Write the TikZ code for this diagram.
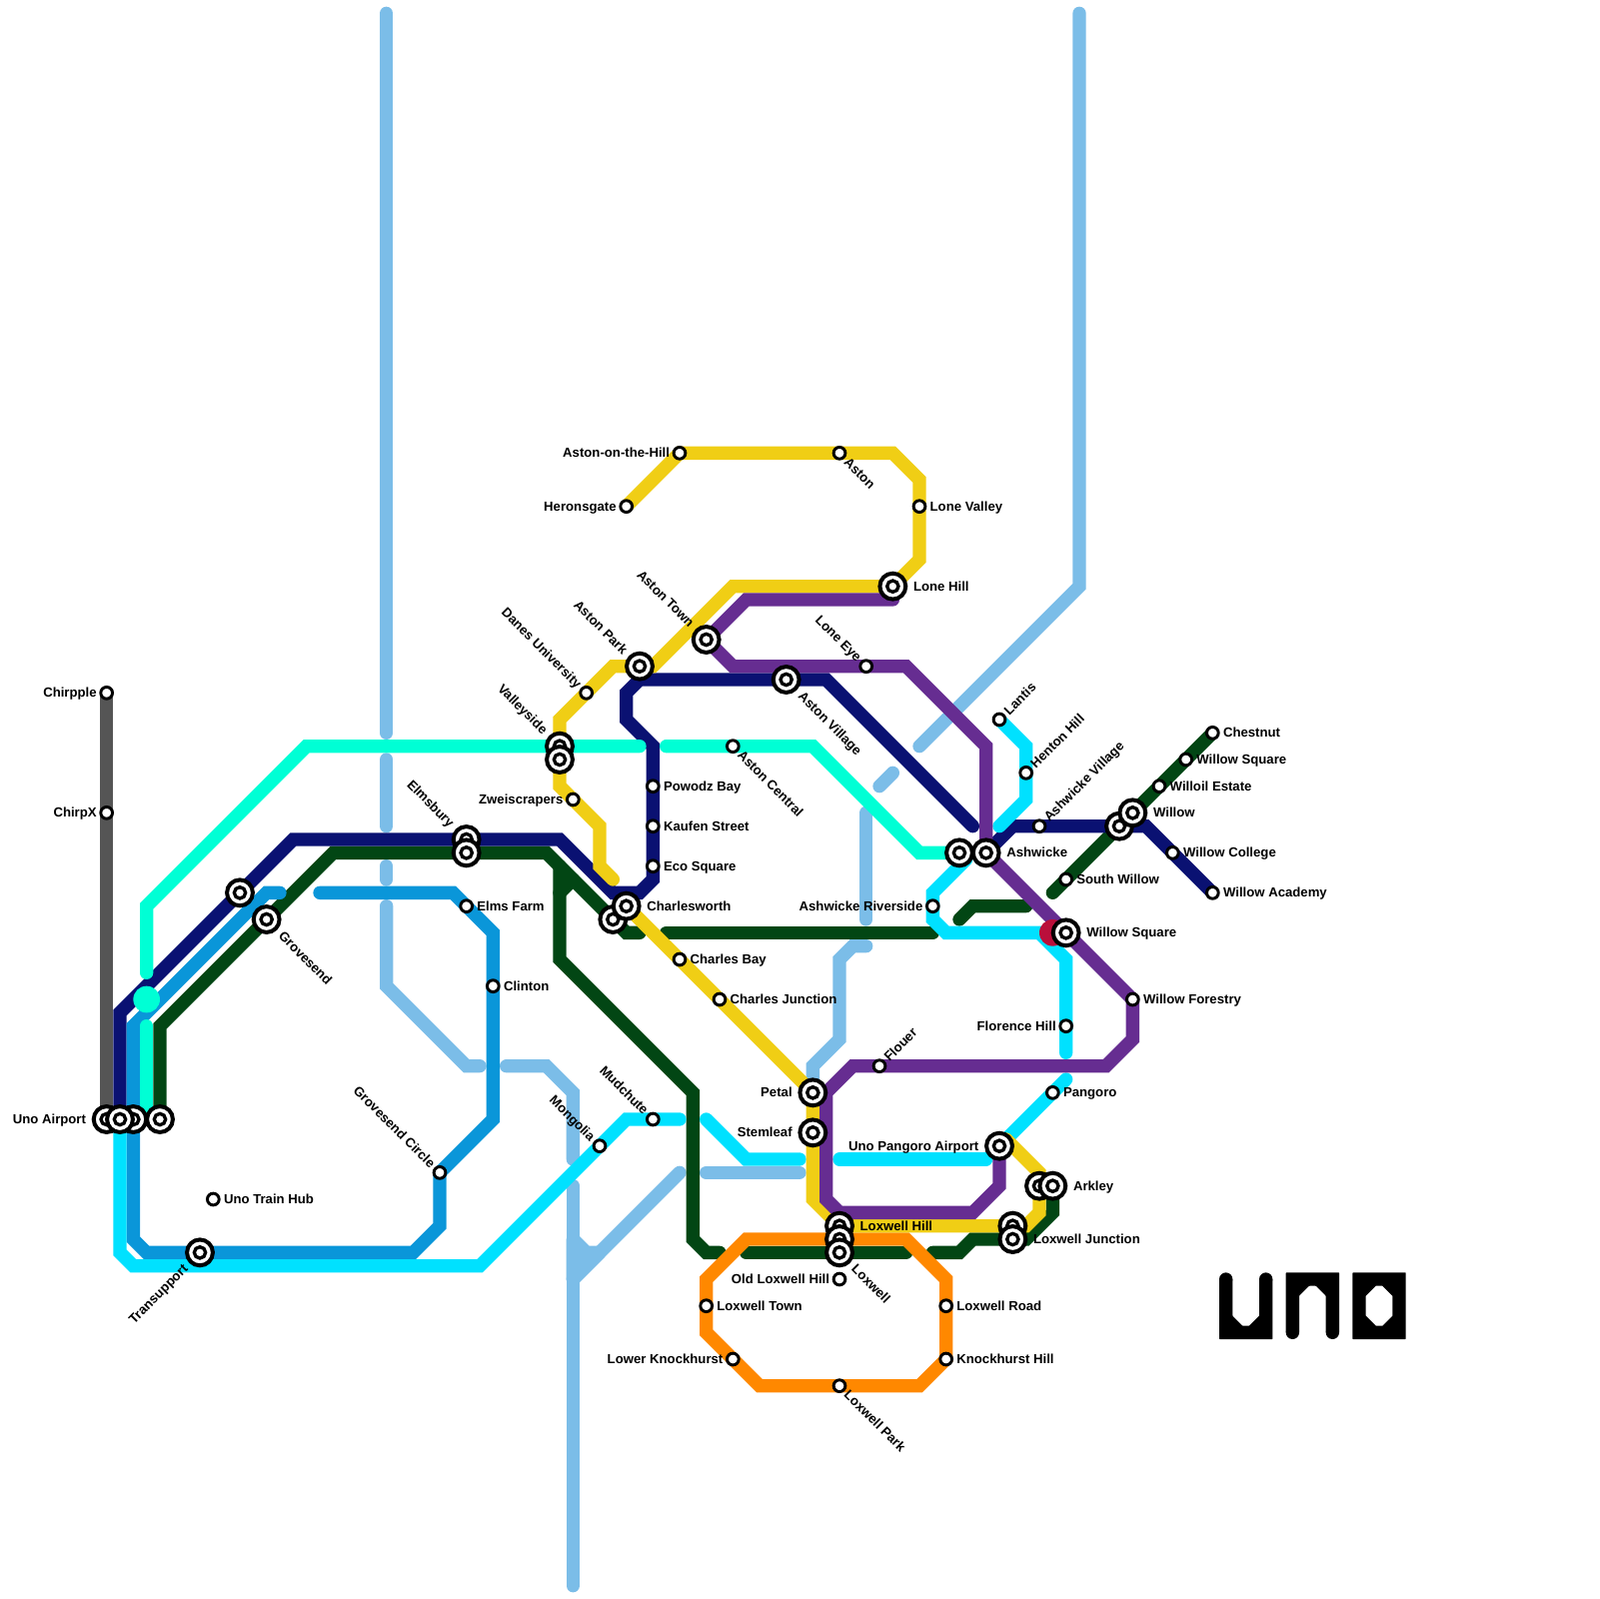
\documentclass[tikz,border=0pt]{standalone}
\usepackage{fontspec}
\setmainfont{Liberation Sans}
\pgfdeclarelayer{paper}
\pgfdeclarelayer{lines}
\pgfsetlayers{paper,lines,main}
\definecolor{cgray}{HTML}{555555}
\definecolor{cnavy}{HTML}{0A1172}
\definecolor{cwater}{HTML}{0A96D9}
\definecolor{ccyan}{HTML}{00E1FF}
\definecolor{cmint}{HTML}{00FFD5}
\definecolor{cgreen}{HTML}{024614}
\definecolor{cyellow}{HTML}{F0CE15}
\definecolor{cpurple}{HTML}{662D91}
\definecolor{corange}{HTML}{FF8800}
\definecolor{cblue}{HTML}{7BBDE8}
\definecolor{ccrimson}{HTML}{BA0F3B}
\def\of{1.5mm}
\def\ofr{1.6mm}
\tikzset{
  x=2mm,y=-2mm,
  railway/.style={line width=2mm,line cap=round,line join=miter,miter limit=4},
  bigst/.style={circle,draw=black,fill=white,line width=.6mm,minimum size=3.88mm,inner sep=0pt,outer sep=0pt,
    path picture={\draw[black,line width=.5mm] (path picture bounding box.center) circle [radius=.85mm];}},
  smallst/.style={circle,draw=black,fill=white,line width=.44mm,minimum size=1.76mm,inner sep=0pt,outer sep=0pt},
  stlabel/.style={inner sep=0pt,outer sep=0pt,text=black,text height=1.5mm,text depth=.2mm,font=\fontsize{5.62}{6}\selectfont\bfseries},
  lblR/.style={xshift=\ofr,anchor=west},
  lblL/.style={xshift=-\of,anchor=east},
  lblSE/.style={xshift=.7*\of,yshift=-.7*\of,anchor=west,rotate=-45},
  lblNW/.style={xshift=-.7*\of,yshift=.7*\of,anchor=east,rotate=-45},
  lblNE/.style={xshift=.7*\of,yshift=.7*\of,anchor=west,rotate=45},
  lblSW/.style={xshift=-.7*\of,yshift=-.7*\of,anchor=east,rotate=45},
}
\newcommand{\stB}[4]{\node[bigst] (#1) at (#2) {};\def\of{3.1mm}\def\ofr{3.1mm}\node[stlabel,#3] (#1-l) at (#1.center) {#4};}
\newcommand{\stS}[4]{\node[smallst] (#1) at (#2) {};\def\of{1.5mm}\def\ofr{1.6mm}\node[stlabel,#3] (#1-l) at (#1.center) {#4};}
\newcommand{\stN}[2]{\node[bigst] (#1) at (#2) {};}
\begin{document}
\begin{tikzpicture}
\useasboundingbox (0,0) rectangle (120,120);
\begin{pgfonlayer}{paper}
\fill[white] (0,0) rectangle (120,120);
\end{pgfonlayer}
% stations
\stS{chirpple}{8,52}{lblL}{Chirpple}
\stS{chirpx}{8,61}{lblL}{ChirpX}
\stB{unoair}{8,84}{lblL}{Uno Airport}
\stN{unoairc}{10,84}
\stN{unoairb}{9,84}
\stN{unoaird}{12,84}
\stN{tramA}{18,67}
\stB{grovesend}{20,69}{lblSE}{Grovesend}
\stB{transupport}{15,94}{lblSW}{Transupport}
\stS{trainhub}{16,90}{lblR}{Uno Train Hub}
\stS{grovecircle}{33,88}{lblNW}{Grovesend Circle}
\stB{elmsbury}{35,63}{lblNW}{Elmsbury}
\stN{elmsburyb}{35,64}
\stS{elmsfarm}{35,68}{lblR}{Elms Farm}
\stS{clinton}{37,74}{lblR}{Clinton}
\stB{valleyside}{42,56}{lblNW}{Valleyside}
\stN{valleysideb}{42,57}
\stS{zweis}{43,60}{lblL}{Zweiscrapers}
\stS{danes}{44,52}{lblNW}{Danes University}
\stB{astonpark}{48,50}{lblNW}{Aston Park}
\stB{astontown}{53,48}{lblNW}{Aston Town}
\stS{heronsgate}{47,38}{lblL}{Heronsgate}
\stS{astonhill}{51,34}{lblL}{Aston-on-the-Hill}
\stS{aston}{63,34}{lblSE}{Aston}
\stS{lonevalley}{69,38}{lblR}{Lone Valley}
\stB{lonehill}{67,44}{lblR}{Lone Hill}
\stB{astonvillage}{59,51}{lblSE}{Aston Village}
\stS{astoncentral}{55,56}{lblSE}{Aston Central}
\stS{powodz}{49,59}{lblR}{Powodz Bay}
\stS{kaufen}{49,62}{lblR}{Kaufen Street}
\stS{eco}{49,65}{lblR}{Eco Square}
\stN{charlesb}{46,69}
\stB{charlesworth}{47,68}{lblR}{Charlesworth}
\stS{charlesbay}{51,72}{lblR}{Charles Bay}
\stS{charlesjn}{54,75}{lblR}{Charles Junction}
\stB{petal}{61,82}{lblL}{Petal}
\stB{stemleaf}{61,85}{lblL}{Stemleaf}
\stS{mudchute}{49,84}{lblNW}{Mudchute}
\stS{mongolia}{45,86}{lblNW}{Mongolia}
\stS{loneeye}{65,50}{lblNW}{Lone Eye}
\stS{lantis}{75,54}{lblNE}{Lantis}
\stS{henton}{77,58}{lblNE}{Henton Hill}
\stS{ashvillage}{78,62}{lblNE}{Ashwicke Village}
\stS{flouer}{66,80}{lblNE}{Flouer}
\stN{ashwest}{72,64}
\stB{ashwicke}{74,64}{lblR}{Ashwicke}
\stS{ashriver}{70,68}{lblL}{Ashwicke Riverside}
\stS{southwillow}{80,66}{lblR}{South Willow}
\stB{willowsq}{80,70}{lblR}{Willow Square}
\stN{willowb}{84,62}
\stB{willow}{85,61}{lblR}{Willow}
\stS{chestnut}{91,55}{lblR}{Chestnut}
\stS{willowsqb}{89,57}{lblR}{Willow Square}
\stS{willoil}{87,59}{lblR}{Willoil Estate}
\stS{willowcol}{88,64}{lblR}{Willow College}
\stS{willowac}{91,67}{lblR}{Willow Academy}
\stS{willowfor}{85,75}{lblR}{Willow Forestry}
\stS{florence}{80,77}{lblL}{Florence Hill}
\stS{pangoro}{79,82}{lblR}{Pangoro}
\stB{unopangoro}{75,86}{lblL}{Uno Pangoro Airport}
\stN{arkleyb}{78,89}
\stB{arkley}{79,89}{lblR}{Arkley}
\stN{loxjunb}{76,92}
\stB{loxjun}{76,93}{lblR}{Loxwell Junction}
\stB{loxhill}{63,92}{lblR}{Loxwell Hill}
\stN{loxmid}{63,93}
\stB{loxwell}{63,94}{lblSE}{Loxwell}
\stS{oldlox}{63,96}{lblL}{Old Loxwell Hill}
\stS{loxtown}{53,98}{lblR}{Loxwell Town}
\stS{lowerknock}{55,102}{lblL}{Lower Knockhurst}
\stS{loxpark}{63,104}{lblSE}{Loxwell Park}
\stS{loxroad}{71,98}{lblR}{Loxwell Road}
\stS{knock}{71,102}{lblR}{Knockhurst Hill}
\begin{pgfonlayer}{lines}
\draw[railway,cgray] (chirpple.center) -- (unoair.center);
% light blue
\draw[railway,cblue] (29,1) -- (29,55);
\draw[railway,cblue] (29,57) -- (29,62);
\draw[railway,cblue] (29,65) -- (29,66);
\draw[railway,cblue] (29,68) -- (29,74) -- (35,80) -- (36,80);
\draw[railway,cblue] (38,80) -- (41,80) -- (43,82) -- (43,87);
\draw[railway,cblue] (43,89) -- (43,119);
\draw[railway,cblue,fill=cblue,line join=round] (43,93) -- (44,94) -- (45,94) -- (43,96) -- cycle;
\draw[railway,cblue] (51,88) -- (43,96);
\draw[railway,cblue] (53,88) -- (60,88);
\draw[railway,cblue] (petal.center) -- (61,80) -- (63,78) -- (63,72) -- (64,71) -- (65,71);
\draw[railway,cblue] (65,69) -- (65,61);
\draw[railway,cblue] (66,59) -- (67,58);
\draw[railway,cblue] (69,56) -- (81,44) -- (81,1);
% green
\draw[railway,cgreen] (unoaird.center) -- (12,77) -- (25,64) -- (41,64) -- (47,70) -- (48,70);
\draw[railway,cgreen] (42,65) -- (42,72) -- (52,82) -- (52,93) -- (53,94) -- (54,94);
\draw[railway,cgreen] (42,67) -- (43,66);
\draw[railway,cgreen] (50,70) -- (70,70);
\draw[railway,cgreen] (72,69) -- (73,68) -- (77,68);
\draw[railway,cgreen] (56,94) -- (68,94);
\draw[railway,cgreen] (70,94) -- (72,94) -- (73,93) -- (loxjun.center) -- (77,93) -- (79,91) -- (arkley.center);
\draw[railway,cgreen] (79,67) -- (chestnut.center);
% navy
\draw[railway,cnavy] (unoairb.center) -- (9,76) -- (22,63) -- (42,63) -- (46,67) -- (48,67) -- (49,66) -- (49,56) -- (47,54) -- (47,52) -- (48,51) -- (62,51) -- (73,62);
\draw[railway,cnavy] (ashwicke.center) -- (76,62) -- (86,62) -- (willowac.center);
% water blue
\draw[railway,cwater] (21,67) -- (20,67) -- (10,77) -- (10,93) -- (11,94) -- (31,94) -- (33,92) -- (33,88) -- (37,84) -- (37,70) -- (34,67) -- (24,67);
% cyan
\draw[railway,ccyan] (unoairb.center) -- (9,94) -- (10,95) -- (36,95) -- (47,84) -- (51,84);
\draw[railway,ccyan] (53,84) -- (56,87) -- (60,87);
\draw[railway,ccyan] (63,87) -- (74,87);
\draw[railway,ccyan] (unopangoro.center) -- (80,81);
\draw[railway,ccyan] (80,79) -- (80,72) -- (78,70) -- (71,70) -- (70,69) -- (70,67) -- (72.5,64.5);
\draw[railway,ccyan] (75,62) -- (77,60) -- (77,56) -- (lantis.center);
% mint
\draw[railway,cmint] (11,73) -- (11,68) -- (23,56) -- (48,56);
\draw[railway,cmint] (50,56) -- (61,56) -- (69,64) -- (ashwest.center);
\draw[railway,cmint] (11,77) -- (11,83);
\fill[cmint] (11,75) circle [radius=1];
% orange
\draw[railway,corange] (53,96) -- (56,93) -- (68,93) -- (71,96) -- (71,102) -- (69,104) -- (57,104) -- (53,100) -- cycle;
% yellow
\draw[railway,cyellow] (heronsgate.center) -- (astonhill.center) -- (67,34) -- (69,36) -- (69,42) -- (lonehill.center) -- (55,44) -- (49,50) -- (46,50) -- (42,54) -- (42,59) -- (45,62) -- (45,65) -- (46,66);
\draw[railway,cyellow] (charlesworth.center) -- (petal.center) -- (61,90) -- (63,92) -- (77,92) -- (78,91) -- (78,88) -- (75.5,85.5);
% purple
\draw[railway,cpurple] (67,45) -- (56,45) -- (astontown.center) -- (55,50) -- (68,50) -- (74,56) -- (ashwicke.center) -- (willowfor.center) -- (85,78) -- (83,80) -- (64,80) -- (62,82) -- (62,90) -- (63,91) -- (73,91) -- (75,89) -- (unopangoro.center);
% crimson
\fill[ccrimson] (79,70) circle [radius=1];
\end{pgfonlayer}
% logo
\fill[black,rounded corners=.25] (91.5,96) -- (91.5,100.5) -- (95.5,100.5) -- (95.5,96) -- (94.5,96) -- (94.5,98.75) -- (93.75,99.5) -- (93.25,99.5) -- (92.5,98.75) -- (92.5,96) -- cycle;
\fill[black] (92,96) circle [radius=.5] (95,96) circle [radius=.5];
\fill[black,rounded corners=.25] (96.5,100) -- (96.5,95.5) -- (100.5,95.5) -- (100.5,100) -- (99.5,100) -- (99.5,97.25) -- (98.75,96.5) -- (98.25,96.5) -- (97.5,97.25) -- (97.5,100) -- cycle;
\fill[black] (97,100) circle [radius=.5] (100,100) circle [radius=.5];
\fill[black,even odd rule] [rounded corners=.25] (101.5,95.5) -- (105.5,95.5) -- (105.5,100.5) -- (101.5,100.5) -- cycle [sharp corners] (103.25,96.5) -- (103.75,96.5) -- (104.5,97.25) -- (104.5,98.75) -- (103.75,99.5) -- (103.25,99.5) -- (102.5,98.75) -- (102.5,97.25) -- cycle;
\end{tikzpicture}
\end{document}
